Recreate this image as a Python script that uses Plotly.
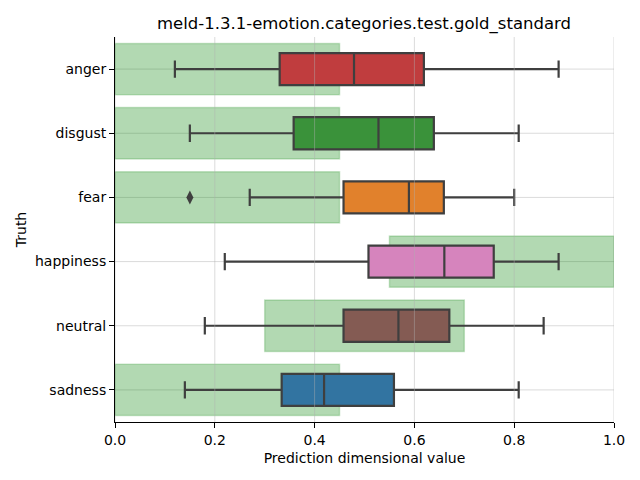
import plotly.graph_objects as go

categories = ["anger", "disgust", "fear", "happiness", "neutral", "sadness"]
lower_whisker = [0.12, 0.15, 0.27, 0.22, 0.18, 0.14]
q1_vals = [0.33, 0.358, 0.458, 0.508, 0.458, 0.334]
median_vals = [0.479, 0.528, 0.589, 0.66, 0.568, 0.419]
q3_vals = [0.619, 0.639, 0.659, 0.759, 0.67, 0.559]
upper_whisker = [0.889, 0.809, 0.80, 0.889, 0.859, 0.809]
box_colors = ["#c03d3e", "#3a923a", "#e1812c", "#d684bd", "#845b53", "#3274a1"]
outlier_cat = ["fear"]
outlier_vals = [0.15]
gold_lo = [0.0, 0.0, 0.0, 0.55, 0.3, 0.0]
gold_hi = [0.45, 0.45, 0.45, 1.0, 0.7, 0.45]
x_ticks = [0.0, 0.2, 0.4, 0.6, 0.8, 1.0]

fig = go.Figure()
shapes = []
for i, c in enumerate(categories):
    shapes.append(dict(type="rect", xref="x", yref="y", x0=gold_lo[i], x1=gold_hi[i],
                       y0=i - 0.4, y1=i + 0.4, fillcolor="rgba(0,128,0,0.3)",
                       line=dict(color="rgba(0,128,0,0.2)", width=1.5), layer="below"))
    fig.add_trace(go.Box(
        y=[i], q1=[q1_vals[i]], median=[median_vals[i]], q3=[q3_vals[i]],
        lowerfence=[lower_whisker[i]], upperfence=[upper_whisker[i]],
        orientation="h", width=0.5, fillcolor=box_colors[i],
        line=dict(color="#3f3f3f", width=2.2), whiskerwidth=0.54,
        boxpoints=False, showlegend=False, hoverinfo="skip"))

fig.add_trace(go.Scatter(
    x=outlier_vals, y=[categories.index(c) for c in outlier_cat], mode="markers",
    marker=dict(symbol="diamond-tall", size=10, color="#3f3f3f"),
    showlegend=False, hoverinfo="skip"))

for i in range(len(categories)):
    shapes.append(dict(type="line", xref="paper", yref="y", x0=0, x1=1, y0=i, y1=i,
                       line=dict(color="rgba(176,176,176,0.45)", width=1), layer="below"))
for t in x_ticks:
    shapes.append(dict(type="line", xref="x", yref="paper", x0=t, x1=t, y0=0, y1=1,
                       line=dict(color="rgba(176,176,176,0.45)", width=1), layer="above"))

fig.update_layout(
    width=640, height=480,
    margin=dict(l=107, r=34, t=29, b=66),
    paper_bgcolor="white", plot_bgcolor="white",
    font=dict(family="DejaVu Sans", size=14, color="black"),
    title=dict(text="meld-1.3.1-emotion.categories.test.gold_standard",
               x=356 / 640, xanchor="center", xref="container",
               y=1 - 15 / 480, yanchor="middle", yref="container",
               font=dict(size=16.5, color="black")),
    shapes=shapes,
    xaxis=dict(range=[0, 1], tickvals=x_ticks, ticktext=[f"{t:.1f}" for t in x_ticks],
               showgrid=False, zeroline=False, showline=True, linecolor="black",
               linewidth=1, ticks="outside", ticklen=5, tickcolor="black",
               automargin=False,
               title=dict(text="Prediction dimensional value", font=dict(size=14), standoff=6)),
    yaxis=dict(range=[5.5, -0.5], tickvals=list(range(len(categories))), ticktext=categories,
               showgrid=False, zeroline=False, showline=True, linecolor="black",
               linewidth=1, ticks="outside", ticklen=5, tickcolor="black",
               automargin=False,
               title=dict(text="Truth", font=dict(size=14), standoff=5)),
)

fig.write_html("out.html")
